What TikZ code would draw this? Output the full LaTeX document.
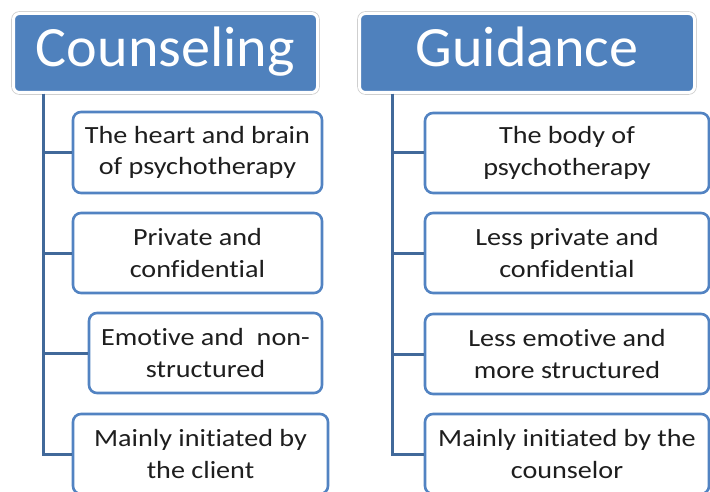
\documentclass[tikz,border=0pt]{standalone}
\usepackage{fontspec}
\setmainfont{Carlito}
\newfontfamily\hdrfont[FakeStretch=1.02]{Carlito}
\newfontfamily\itemfont[FakeStretch=1.14,Ligatures=NoCommon]{Carlito}
\usepackage{xcolor}
\definecolor{hdrblue}{HTML}{4F81BD}
\definecolor{boxblue}{HTML}{5283C2}
\definecolor{linkblue}{HTML}{41699A}
\definecolor{rimgray}{HTML}{CFCFCF}
\definecolor{inktext}{HTML}{1E1E1E}

\tikzset{
  header/.style={preaction={draw=rimgray,line width=4.6pt}, fill=hdrblue,
    draw=white, line width=3pt, rounded corners=6pt, text=white,
    font=\hdrfont\fontsize{57}{60}\selectfont, text height=39pt,
    text depth=11pt, minimum height=79pt, inner sep=0pt},
  item/.style={draw=boxblue, line width=2.6pt, fill=white, rounded corners=8pt,
    align=center, text=inktext, font=\itemfont\fontsize{24.7}{31.7}\selectfont,
    minimum height=80pt, inner sep=0pt},
  link/.style={draw=linkblue, line width=3pt}
}

\begin{document}
\begin{tikzpicture}[x=1pt,y=-1pt]
  \useasboundingbox (0,0) rectangle (710,492);
  \clip (0,0) rectangle (710,492);

  \node[header, minimum width=304pt] (couns) at (165.5,53) {Counseling};
  \node[item, minimum width=249pt, minimum height=81pt] (c1) at (197.5,152.5)
    {The heart and brain\\of psychotherapy};
  \node[item, minimum width=249pt] (c2) at (197.5,253) {Private and\\confidential};
  \node[item, minimum width=233pt] (c3) at (205.5,353) {Emotive and~~non-\\structured};
  \node[item, minimum width=255pt] (c4) at (200.5,454) {Mainly initiated by\\the client};

  \node[header, minimum width=335pt] (guid) at (527,53) {Guidance};
  \node[item, minimum width=284pt] (g1) at (567,153) {The body of\\psychotherapy};
  \node[item, minimum width=284pt] (g2) at (567,253) {Less private and\\confidential};
  \node[item, minimum width=284pt] (g3) at (567,354) {Less emotive and\\more structured};
  \node[item, minimum width=284pt] (g4) at (567,454) {Mainly initiated by the\\counselor};

  \path (43,0) coordinate (ctrunk) (392,0) coordinate (gtrunk);
  \foreach \n in {c1,c2,c3,c4}
    \draw[link] (couns.south -| ctrunk) |- (\n.west);
  \foreach \n in {g1,g2,g3,g4}
    \draw[link] (guid.south -| gtrunk) |- (\n.west);
\end{tikzpicture}
\end{document}
